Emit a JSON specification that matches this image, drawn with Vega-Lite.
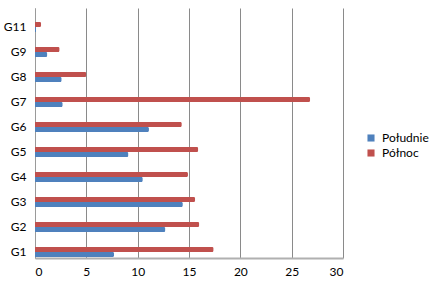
{
  "$schema": "https://vega.github.io/schema/vega-lite/v6.json",
  "width": 308,
  "height": 250,
  "autosize": {"type": "none"},
  "padding": {"left": 35, "top": 8, "right": 97, "bottom": 30},
  "background": "white",
  "config": {
    "font": "Lato",
    "view": {"stroke": null},
    "axis": {"labelFont": "Lato", "labelColor": "#000000", "labelFontSize": 12}
  },
  "data": {
    "values": [
      {"grupa": "G1", "seria": "Południe", "wartosc": 7.7},
      {"grupa": "G1", "seria": "Północ", "wartosc": 17.4},
      {"grupa": "G2", "seria": "Południe", "wartosc": 12.7},
      {"grupa": "G2", "seria": "Północ", "wartosc": 16.0},
      {"grupa": "G3", "seria": "Południe", "wartosc": 14.4},
      {"grupa": "G3", "seria": "Północ", "wartosc": 15.6},
      {"grupa": "G4", "seria": "Południe", "wartosc": 10.5},
      {"grupa": "G4", "seria": "Północ", "wartosc": 14.9},
      {"grupa": "G5", "seria": "Południe", "wartosc": 9.1},
      {"grupa": "G5", "seria": "Północ", "wartosc": 15.9},
      {"grupa": "G6", "seria": "Południe", "wartosc": 11.1},
      {"grupa": "G6", "seria": "Północ", "wartosc": 14.3},
      {"grupa": "G7", "seria": "Południe", "wartosc": 2.7},
      {"grupa": "G7", "seria": "Północ", "wartosc": 26.8},
      {"grupa": "G8", "seria": "Południe", "wartosc": 2.6},
      {"grupa": "G8", "seria": "Północ", "wartosc": 5.0},
      {"grupa": "G9", "seria": "Południe", "wartosc": 1.2},
      {"grupa": "G9", "seria": "Północ", "wartosc": 2.4},
      {"grupa": "G11", "seria": "Południe", "wartosc": 0.1},
      {"grupa": "G11", "seria": "Północ", "wartosc": 0.6}
    ]
  },
  "mark": {"type": "bar", "cornerRadiusEnd": 1.5},
  "encoding": {
    "y": {
      "field": "grupa",
      "type": "nominal",
      "sort": ["G11", "G9", "G8", "G7", "G6", "G5", "G4", "G3", "G2", "G1"],
      "scale": {"paddingInner": 0.6, "paddingOuter": 0.3, "align": 0.93},
      "axis": {"title": null, "ticks": false, "domain": true, "domainColor": "#9a9a9a", "labelPadding": 9, "grid": false}
    },
    "yOffset": {
      "field": "seria",
      "type": "nominal",
      "sort": ["Północ", "Południe"]
    },
    "x": {
      "field": "wartosc",
      "type": "quantitative",
      "scale": {"domain": [0, 30], "nice": false},
      "axis": {"title": null, "values": [0, 5, 10, 15, 20, 25, 30], "ticks": false, "domain": true, "domainColor": "#b0b0b0", "domainWidth": 2, "grid": true, "gridColor": "#8a8a8a", "labelPadding": 8, "labelFontSize": 12}
    },
    "color": {
      "field": "seria",
      "type": "nominal",
      "scale": {"domain": ["Południe", "Północ"], "range": ["#4F81BD", "#C0504D"]},
      "legend": {"title": null, "orient": "none", "legendX": 330, "legendY": 124, "symbolType": "square", "symbolSize": 50, "labelFontSize": 12, "labelFont": "Lato", "symbolStrokeWidth": 0, "rowPadding": 3, "labelOffset": 5}
    }
  }
}
